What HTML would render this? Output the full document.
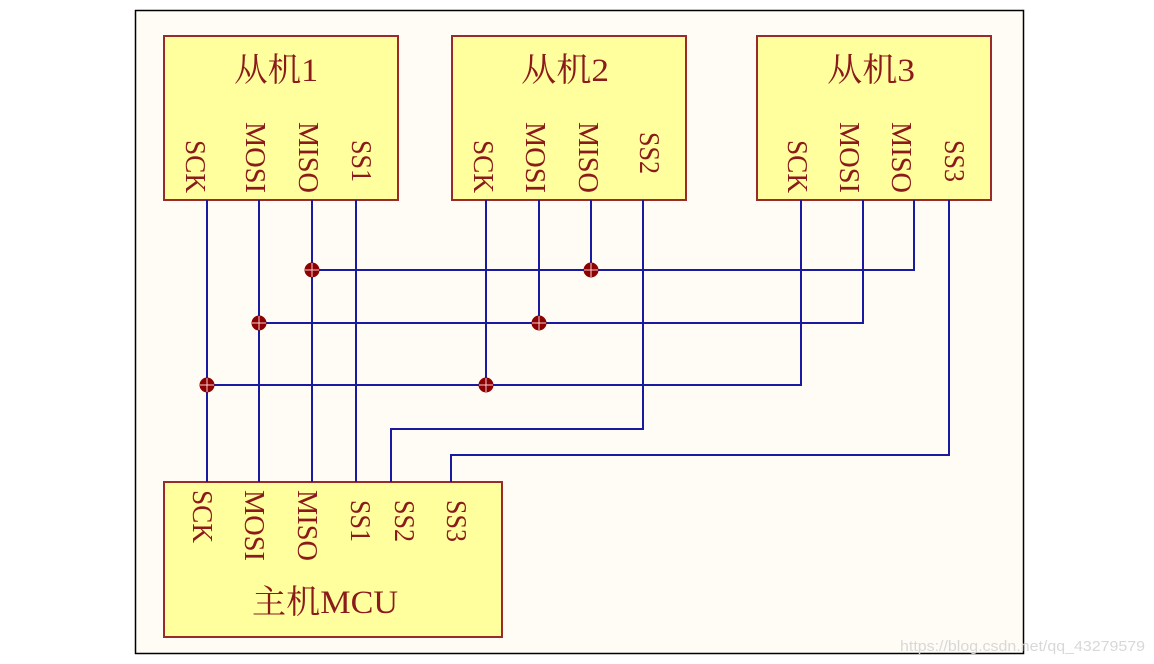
<!DOCTYPE html>
<html><head><meta charset="utf-8"><style>
html,body{margin:0;padding:0;background:#fff;}
svg{display:block;}
text{font-family:"Liberation Serif","Noto Serif CJK SC",serif;fill:#8b1a1a;}
</style></head><body>
<svg width="1154" height="664" viewBox="0 0 1154 664" xmlns="http://www.w3.org/2000/svg">
<rect x="0" y="0" width="1154" height="664" fill="#ffffff"/>
<rect x="135.5" y="10.5" width="888" height="643" fill="#fffbf5" stroke="#000" stroke-width="1.5"/>
<g fill="#ffff9e" stroke="#9b2a2a" stroke-width="2">
<rect x="164" y="36" width="234" height="164"/>
<rect x="452" y="36" width="234" height="164"/>
<rect x="757" y="36" width="234" height="164"/>
<rect x="164" y="482" width="338" height="155"/>
</g>
<g stroke="#1a1aa0" stroke-width="2" fill="none">
<path d="M207 200V482M259 200V482M312 200V482M356 200V482"/>
<path d="M486 200V385M539 200V323M591 200V270"/>
<path d="M801 200V385H207M863 200V323H259M914 200V270H312"/>
<path d="M643 200V429H391V482M949 200V455H451V482"/>
</g>
<g fill="#8b0000">
<circle cx="312" cy="270" r="7.5"/><circle cx="591" cy="270" r="7.5"/>
<circle cx="259" cy="323" r="7.5"/><circle cx="539" cy="323" r="7.5"/>
<circle cx="207" cy="385" r="7.5"/><circle cx="486" cy="385" r="7.5"/>
</g>
<g stroke="#ffccd0" stroke-width="1">
<path d="M305 270h14M312 263v14M584 270h14M591 263v14M252 323h14M259 316v14M532 323h14M539 316v14M200 385h14M207 378v14M479 385h14M486 378v14"/>
</g>
<g font-size="33">
<text x="234" y="81" textLength="84" lengthAdjust="spacingAndGlyphs">从机1</text>
<text x="521" y="81" textLength="88" lengthAdjust="spacingAndGlyphs">从机2</text>
<text x="827" y="81" textLength="88" lengthAdjust="spacingAndGlyphs">从机3</text>
<text x="252" y="613" textLength="146" lengthAdjust="spacingAndGlyphs">主机MCU</text>
</g>
<g font-size="29">
<text transform="translate(186,140) rotate(90)" textLength="53" lengthAdjust="spacingAndGlyphs">SCK</text>
<text transform="translate(246,122) rotate(90)" textLength="71" lengthAdjust="spacingAndGlyphs">MOSI</text>
<text transform="translate(299,122) rotate(90)" textLength="71" lengthAdjust="spacingAndGlyphs">MISO</text>
<text transform="translate(352,140) rotate(90)" textLength="42" lengthAdjust="spacingAndGlyphs">SS1</text>
<text transform="translate(474,140) rotate(90)" textLength="53" lengthAdjust="spacingAndGlyphs">SCK</text>
<text transform="translate(526,122) rotate(90)" textLength="71" lengthAdjust="spacingAndGlyphs">MOSI</text>
<text transform="translate(579,122) rotate(90)" textLength="71" lengthAdjust="spacingAndGlyphs">MISO</text>
<text transform="translate(640,132) rotate(90)" textLength="42" lengthAdjust="spacingAndGlyphs">SS2</text>
<text transform="translate(788,140) rotate(90)" textLength="53" lengthAdjust="spacingAndGlyphs">SCK</text>
<text transform="translate(840,122) rotate(90)" textLength="71" lengthAdjust="spacingAndGlyphs">MOSI</text>
<text transform="translate(892,122) rotate(90)" textLength="71" lengthAdjust="spacingAndGlyphs">MISO</text>
<text transform="translate(945,140) rotate(90)" textLength="42" lengthAdjust="spacingAndGlyphs">SS3</text>
<text transform="translate(193,490) rotate(90)" textLength="53" lengthAdjust="spacingAndGlyphs">SCK</text>
<text transform="translate(245,490) rotate(90)" textLength="71" lengthAdjust="spacingAndGlyphs">MOSI</text>
<text transform="translate(298,490) rotate(90)" textLength="71" lengthAdjust="spacingAndGlyphs">MISO</text>
<text transform="translate(351,500) rotate(90)" textLength="42" lengthAdjust="spacingAndGlyphs">SS1</text>
<text transform="translate(395,500) rotate(90)" textLength="42" lengthAdjust="spacingAndGlyphs">SS2</text>
<text transform="translate(447,500) rotate(90)" textLength="42" lengthAdjust="spacingAndGlyphs">SS3</text>
</g>
<text x="900" y="651" font-size="15" textLength="245" lengthAdjust="spacingAndGlyphs" style="font-family:'Liberation Sans',sans-serif;fill:#d8d8d8">https://blog.csdn.net/qq_43279579</text>
</svg>
</body></html>
